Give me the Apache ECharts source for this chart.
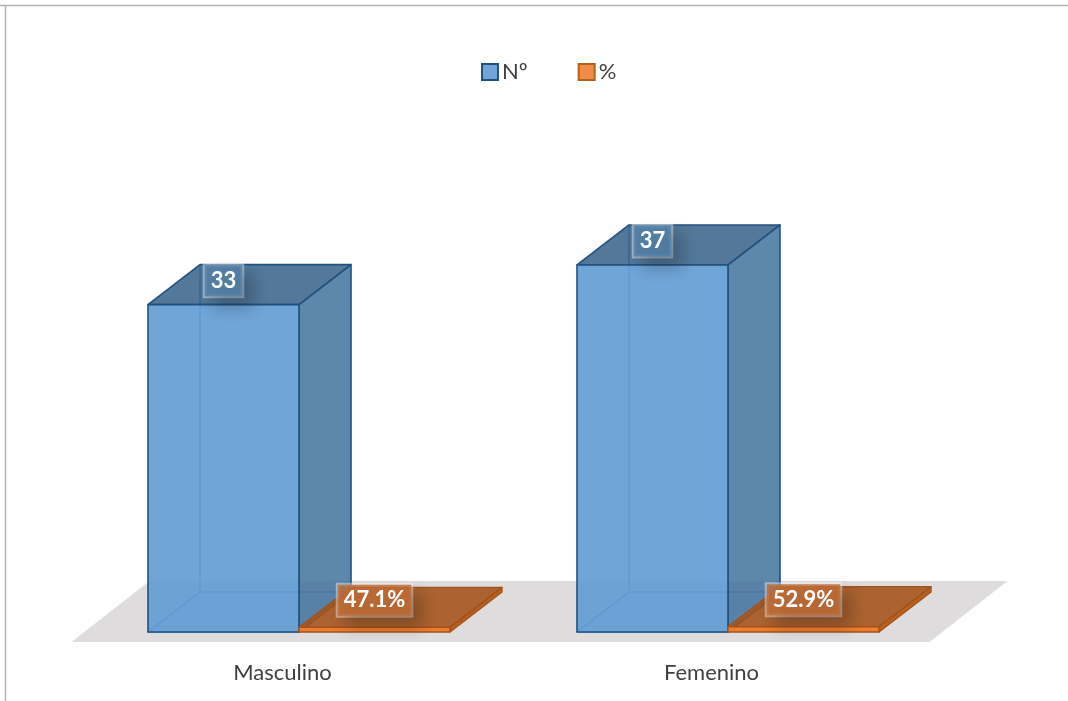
<!DOCTYPE html>
<html><head><meta charset="utf-8">
<style>html,body{margin:0;padding:0;background:#fff}#c{width:1068px;height:701px}</style>
<script src="https://cdn.jsdelivr.net/npm/echarts@6/dist/echarts.min.js"></script>
</head><body><div id="c"></div>
<script>
const categories = ['Masculino', 'Femenino'];
const countValues = [33, 37];
const percentValues = [0.471, 0.529];
const seriesNames = ['Nº', '%'];

const FONT = 'Lato, "Open Sans", sans-serif';
const BAR_RATIO = 0.352, SHIFT = 16.5, DX = 52, DY = -40;

function poly(points, fill, stroke, lw) {
  return { type: 'polygon', shape: { points }, style: { fill, stroke: stroke || 'none', lineWidth: lw || 0, lineJoin: 'round' } };
}
function box(api, side) {
  const band = api.size([1, 0])[0];
  const w = band * BAR_RATIO;
  const i = api.value(0);
  const c = api.coord([i, 0]);
  const t = api.coord([i, api.value(1)]);
  const x0 = c[0] + SHIFT + (side === 0 ? -w : 0);
  return { x0, x1: x0 + w, yb: c[1], yt: t[1], w };
}
function labelEl(cx, cy, text, bg) {
  return {
    type: 'text', z2: 100,
    style: {
      text, x: cx, y: cy, align: 'center', verticalAlign: 'middle',
      fill: '#fff', font: 'bold 22px ' + FONT,
      backgroundColor: bg, borderColor: 'rgba(255,255,255,0.42)', borderWidth: 2,
      padding: [5, 6, 4, 6],
      shadowColor: 'rgba(0,0,0,0.28)', shadowBlur: 16, shadowOffsetX: 9, shadowOffsetY: 10
    }
  };
}
function renderFloor(params) {
  const g = params.coordSys;
  const yf = g.y + g.height + 10, yb = yf - 61, dx = 78;
  const xl = g.x + 3.5, xr = g.x + g.width + 3.5;
  return poly([[xl, yf], [xr, yf], [xr + dx, yb], [xl + dx, yb]], '#dedcdc');
}
function renderCount(params, api) {
  const b = box(api, 0);
  const line = '#23527f', inner = '#5590c9', lw = 1.6;
  const { x0, x1, yb, yt } = b;
  return { type: 'group', children: [
    poly([[x0, yb], [x1, yb], [x1 + DX, yb + DY], [x0 + DX, yb + DY]], 'rgba(91,155,213,0.12)', inner, lw),
    { type: 'line', shape: { x1: x0 + DX, y1: yb + DY, x2: x0 + DX, y2: yt + DY }, style: { stroke: inner, lineWidth: lw } },
    poly([[x1, yb], [x1 + DX, yb + DY], [x1 + DX, yt + DY], [x1, yt]], 'rgba(68,115,158,0.86)', line, lw),
    poly([[x0, yt], [x1, yt], [x1 + DX, yt + DY], [x0 + DX, yt + DY]], 'rgba(55,98,137,0.86)', line, lw),
    poly([[x0, yb], [x1, yb], [x1, yt], [x0, yt]], 'rgba(96,155,212,0.9)', line, lw),
    labelEl((x0 + x1) / 2, yt - 24, String(api.value(1)), 'rgba(85,128,168,0.85)')
  ] };
}
function renderPercent(params, api) {
  const b = box(api, 1);
  const line = '#a5521a', lw = 1.4;
  const { x0, x1, yb, yt } = b;
  return { type: 'group', children: [
    poly([[x1, yb], [x1 + DX, yb + DY], [x1 + DX, yt + DY], [x1, yt]], '#b5611f', line, lw),
    poly([[x0, yt], [x1, yt], [x1 + DX, yt + DY], [x0 + DX, yt + DY]], 'rgba(165,85,30,0.9)', line, lw),
    poly([[x0, yb], [x1, yb], [x1, yt], [x0, yt]], '#ed7d31', line, lw),
    labelEl((x0 + x1) / 2, yt - 27, (api.value(1) * 100).toFixed(1) + '%', 'rgba(190,108,55,0.85)')
  ] };
}

const chart = echarts.init(document.getElementById('c'), null, { renderer: 'canvas' });
chart.setOption({
  animation: false,
  backgroundColor: '#fff',
  graphic: [
    { type: 'line', silent: true, shape: { x1: 0, y1: 5.5, x2: 1068, y2: 5.5 }, style: { stroke: '#b4b4b4', lineWidth: 1.5 } },
    { type: 'line', silent: true, shape: { x1: 5.5, y1: 5, x2: 5.5, y2: 701 }, style: { stroke: '#b4b4b4', lineWidth: 1.5 } }
  ],
  legend: {
    data: seriesNames, left: 476, top: 56, itemWidth: 16, itemHeight: 16, itemGap: 50,
    icon: 'rect', selectedMode: false,
    textStyle: { fontFamily: FONT, fontSize: 22, color: '#404040', padding: [0, 0, 0, -1] }
  },
  grid: { left: 68, right: 142, top: 136, bottom: 69 },
  xAxis: {
    type: 'category', data: categories,
    axisLine: { show: false }, axisTick: { show: false },
    axisLabel: { margin: 30, fontFamily: FONT, fontSize: 22, color: '#404040' }
  },
  yAxis: { type: 'value', min: 0, max: 50, show: false },
  series: [
    { type: 'custom', name: 'floor', coordinateSystem: 'cartesian2d', renderItem: renderFloor, data: [[0, 0]], silent: true, z: 1 },
    { type: 'custom', name: seriesNames[0], coordinateSystem: 'cartesian2d', renderItem: renderCount, z: 2,
      encode: { x: 0, y: 1 }, itemStyle: { color: '#6fa5d8', borderColor: '#23527f', borderWidth: 2 },
      data: countValues.map((v, i) => [i, v]) },
    { type: 'custom', name: seriesNames[1], coordinateSystem: 'cartesian2d', renderItem: renderPercent, z: 3,
      encode: { x: 0, y: 1 }, itemStyle: { color: '#f08c46', borderColor: '#b5611f', borderWidth: 2 },
      data: percentValues.map((v, i) => [i, v]) }
  ]
});
</script></body></html>
